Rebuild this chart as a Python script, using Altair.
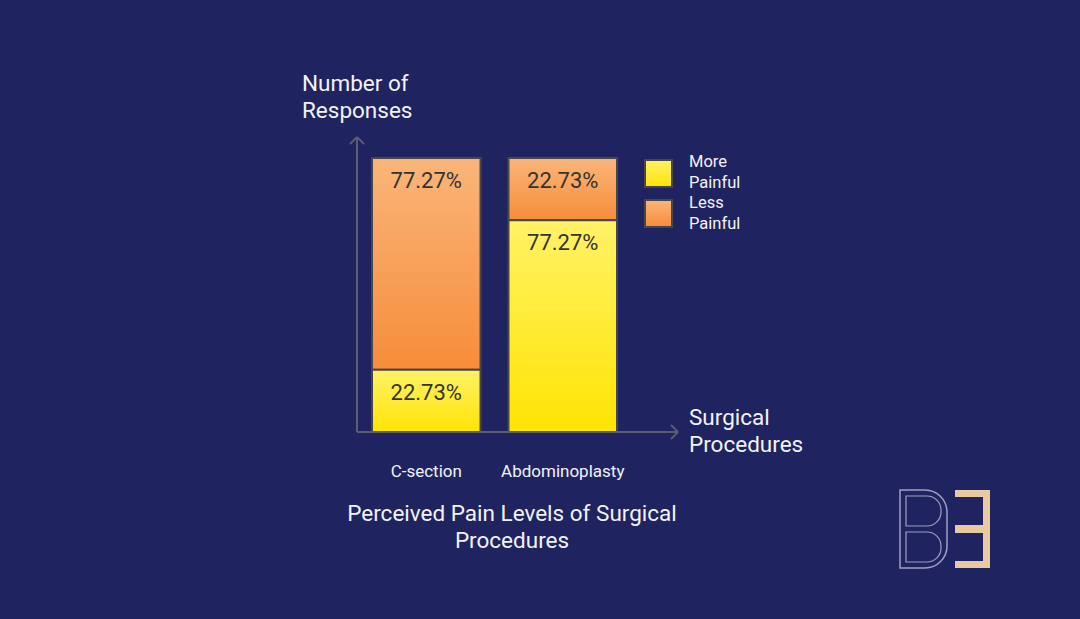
import altair as alt
import pandas as pd

# ---- data ----
procedures = ["C-section", "Abdominoplasty"]
more_painful = [22.73, 77.27]
less_painful = [77.27, 22.73]
categories = ["More Painful", "Less Painful"]

rows = []
for p, m, l in zip(procedures, more_painful, less_painful):
    rows.append({"procedure": p, "category": "More Painful", "start": 0.0, "end": m, "label": f"{m:.2f}%"})
    rows.append({"procedure": p, "category": "Less Painful", "start": m, "end": m + l, "label": f"{l:.2f}%"})
df = pd.DataFrame(rows)
one = pd.DataFrame({"k": [0]})

BG = "#1f2461"
FONT = "Roboto"
AXIS_GRAY = "#5b5e72"
TEXT_W = "#f2f2f6"

def grad(top, bottom):
    return alt.Gradient(
        gradient="linear",
        stops=[alt.GradientStop(color=top, offset=0), alt.GradientStop(color=bottom, offset=1)],
        x1=0, x2=0, y1=0, y2=1,
    )

orange = grad("#fab57a", "#f68d3a")
yellow = grad("#fff266", "#ffe404")

W, H = 321, 292
xscale = alt.Scale(domain=procedures, range=[15, 260], paddingInner=0.205, paddingOuter=0)
yscale = alt.Scale(domain=[0, 100], range=[H, 18])

x_axis = alt.Axis(domain=False, ticks=False, grid=False, labelAngle=0, labelColor=TEXT_W,
                  labelFont=FONT, labelFontSize=17, labelPadding=31, labelBaseline="top")
x_enc = alt.X("procedure:N", scale=xscale, sort=procedures, title=None, axis=x_axis)

base = alt.Chart(df)

bars_less = base.transform_filter(alt.datum.category == "Less Painful").mark_bar(
    color=orange, stroke="#474747", strokeWidth=2
).encode(x=x_enc, y=alt.Y("start:Q", scale=yscale, axis=None), y2="end:Q")

bars_more = base.transform_filter(alt.datum.category == "More Painful").mark_bar(
    color=yellow, stroke="#474747", strokeWidth=2
).encode(x=x_enc, y=alt.Y("start:Q", scale=yscale, axis=None), y2="end:Q")

labels = base.mark_text(dy=23, fontSize=22, font=FONT, color="#333333", baseline="middle").encode(
    x=x_enc, y=alt.Y("end:Q", scale=yscale, axis=None), text="label:N"
)

# axis arrows
rule_kw = dict(color=AXIS_GRAY, strokeWidth=2)
def seg(x1, y1, x2, y2):
    return alt.Chart(one).mark_rule(**rule_kw).encode(
        x=alt.value(x1), y=alt.value(y1), x2=alt.value(x2), y2=alt.value(y2)
    )

arrows = [
    seg(0, -3, 0, H), seg(0, -3, -7, 4), seg(0, -3, 7, 4),
    seg(0, H, 321, H), seg(321, H, 314, H - 7), seg(321, H, 314, H + 7),
]

# legend
leg_sq_more = alt.Chart(one).mark_rect(color=yellow, stroke="#474747", strokeWidth=2).encode(
    x=alt.value(288), x2=alt.value(315), y=alt.value(20), y2=alt.value(47))
leg_sq_less = alt.Chart(one).mark_rect(color=orange, stroke="#474747", strokeWidth=2).encode(
    x=alt.value(288), x2=alt.value(315), y=alt.value(60), y2=alt.value(87))

def txt(s, x, y, size, align="left", lh=None):
    kw = dict(fontSize=size, font=FONT, color=TEXT_W, align=align, baseline="middle", lineBreak="\n")
    if lh:
        kw["lineHeight"] = lh
    return alt.Chart(one).mark_text(**kw).encode(x=alt.value(x), y=alt.value(y), text=alt.value(s))

leg_t1 = txt("More\nPainful", 332, 22, 16.5, lh=21)
leg_t2 = txt("Less\nPainful", 332, 63, 16.5, lh=21)

ytitle = txt("Number of\nResponses", -55, -56, 22.5, lh=27)
xtitle = txt("Surgical\nProcedures", 332, 278, 22.5, lh=27)
title = txt("Perceived Pain Levels of Surgical\nProcedures", 155, 374, 22.5, align="center", lh=27)

# logo (decorative approximation)
GOLD = "#e9caa0"
def rect(x1, y1, x2, y2, **kw):
    return alt.Chart(one).mark_rect(**kw).encode(
        x=alt.value(x1), x2=alt.value(x2), y=alt.value(y1), y2=alt.value(y2))

logo = [
    rect(598, 350, 633, 428, color=GOLD),
    rect(598, 357, 626, 385, color=BG),
    rect(598, 393, 626, 421, color=BG),
    rect(543, 350, 590, 428, fill=BG, fillOpacity=0, stroke="#9ea0c4", strokeWidth=1.5, cornerRadiusTopRight=22, cornerRadiusBottomRight=22),
    rect(549, 356, 584, 386, fill=BG, fillOpacity=0, stroke="#9ea0c4", strokeWidth=1.2, cornerRadiusTopRight=14, cornerRadiusBottomRight=14),
    rect(549, 392, 584, 422, fill=BG, fillOpacity=0, stroke="#9ea0c4", strokeWidth=1.2, cornerRadiusTopRight=14, cornerRadiusBottomRight=14),
]

chart = alt.layer(
    bars_less, bars_more, labels, *arrows, leg_sq_more, leg_sq_less, leg_t1, leg_t2,
    ytitle, xtitle, title, *logo
).properties(
    width=W, height=H,
    autosize=alt.AutoSizeParams(type="none"),
    padding={"left": 357, "top": 140, "right": 1080 - 357 - W, "bottom": 619 - 140 - H},
    background=BG,
).configure_view(stroke=None)

chart.save("out.html", embed_options={"renderer": "svg", "actions": False})
